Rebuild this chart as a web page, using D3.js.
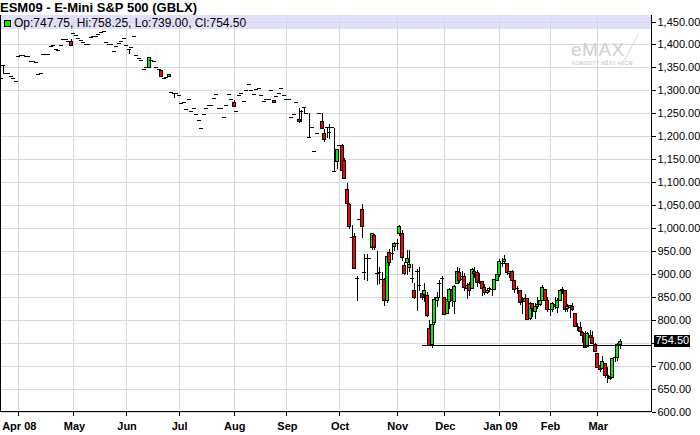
<!DOCTYPE html>
<html><head><meta charset="utf-8">
<script src="https://cdn.jsdelivr.net/npm/d3@7"></script>
<style>
html,body{margin:0;padding:0;background:#fff;}
svg{display:block;font-family:"Liberation Sans",Arial,sans-serif;}
</style></head><body>
<svg id="chart" width="700" height="435"></svg>
<script>
// ---------- data ----------
const firstDay = "2008-03-20";
const lastDay = "2009-03-13";
const holidays = ["2008-03-21","2008-05-26","2008-07-04","2008-09-01","2008-11-27","2008-12-25","2009-01-01","2009-01-19","2009-02-16"];

const opens = [
1326,1355,1338,1338,1331,1326,1320,1374.5,1376,1376,
1374.5,1374.5,1364,1364,1362,1335,1338,1379,1379,1380,
1396,1398,1389,1388,1398.5,1411,1411.5,1407,1407,1425,
1420,1415,1410,1405.5,1400.5,1400,1416.5,1418.5,1418.5,1422,
1427,1429,1404.5,1402,1402,1385.5,1396.5,1403.5,1408,1413,
1398.5,1391,1395,1418,1376.5,1371.5,1365,1347.5,1350,1350,
1366,1364,1351,1347,1344,1326,1330,1331,1295.5,1294.5,
1294,1290,1272.5,1275,1258.5,1280,1254.5,1262,1247.5,1235,
1217,1247.5,1260.5,1269,1269,1282.5,1291.5,1260.5,1260.5,1241,
1269,1291,1280,1273.5,1254.5,1289,1295,1276,1300,1313.5,
1300,1291.5,1302,1306,1289,1276,1280,1282,1300,1278.5,
1288.5,1295,1306,1289,1282,1280,1242.5,1248,1273.5,1238,
1255.5,1263.5,1250,1197.5,1219.5,1167,1208,1250,1233,1206,
1219.5,1210,1219.5,1124,1145.5,1180.5,1180.5,1149,1086,1052,
980.5,982,890,1019,1041,904,933.5,933.5,958.5,984,
902,905,890,888,842,947,945,961,968,988,
988,919,926,914,890,864,906.5,875,858.5,855.5,
853.5,781,748,795,843,880,890,848.5,815,840.5,
866.75,841.5,879.75,903.5,889,895.25,868.75,878,868.5,905.25,
903,884,884.25,871.25,861,866.5,869.25,867.5,887.5,900,
926.25,928.25,924.5,902.75,907,887.5,866.75,864.25,839,841.5,
846.75,803.75,836.75,819.25,829.5,834.25,842.75,866,842.75,820,
822.75,834.75,828.75,843,865.25,864,824.5,827,831,815.5,
788,785,773,770.25,741.75,767.75,762.75,747,726.5,701.5,
695.5,705.25,681,677.75,676.25,716.5,718,747.75];

const highs = [
1326,1355,1338,1338,1331,1326,1320,1374.5,1376,1376,
1374.5,1374.5,1364,1364,1362,1335,1338,1379,1379,1380,
1396,1398,1389,1388,1398.5,1411,1411.5,1407,1411.5,1425,
1420,1415,1410,1405.5,1400.5,1400,1416.5,1418.5,1418.5,1422,
1427,1429,1404.5,1402,1402,1385.5,1396.5,1403.5,1408,1413,
1398.5,1391,1395,1418,1376.5,1371.5,1365,1347.5,1350,1372,
1366,1364,1351,1347,1344,1326,1330,1335,1295.5,1294.5,
1294,1290,1272.5,1275,1258.5,1280,1254.5,1262,1247.5,1235,
1217,1247.5,1260.5,1269,1269,1282.5,1291.5,1260.5,1260.5,1241,
1269,1291,1280,1278,1254.5,1289,1295,1276,1300,1313.5,
1300,1291.5,1302,1306,1289,1276,1280,1282,1300,1278.5,
1288.5,1295,1306,1289,1282,1280,1242.5,1248,1273.5,1262.5,
1256.5,1263.5,1250,1250,1219.5,1167,1208,1250,1250,1215,
1220,1226,1219.5,1217,1173,1180.5,1184,1153,1097,1055,
1006,990,895,1019,1053,943,943,933.5,990,986,
949,915,905,890,940,955,967,970,975,1006,
995,925,953,951,922,880,910,915,862,880,
860,800,795,850,860,886,895,850,847.5,870,
872.5,876.5,915.5,913.25,905.25,901.5,880.25,881.5,911.75,915.75,
908,902.5,884.5,877.5,866.75,870.75,870.75,888,907.25,931.75,
933.5,940.75,924.5,907,909,887.5,874,864.25,848.5,855,
846.75,838.75,836.75,835.5,849.5,847.5,874.75,866,848.75,827.75,
839.5,848.75,847.5,867.75,872,865,835.25,832.5,836.5,815.5,
793,794.5,775.75,774.75,772.5,777,776.5,748.25,726.5,708.75,
721,705.25,696,692.25,716.5,729,749.5,758.25];

const lows = [
1326,1337,1338,1338,1331,1326,1320,1374.5,1376,1376,
1374.5,1374.5,1364,1364,1362,1335,1338,1379,1379,1380,
1396,1398,1389,1388,1398.5,1411,1411.5,1407,1398,1425,
1420,1415,1410,1405.5,1400.5,1400,1416.5,1418.5,1418.5,1422,
1427,1429,1404.5,1402,1402,1385.5,1396.5,1403.5,1408,1413,
1398.5,1381.5,1395,1418,1376.5,1371.5,1365,1347.5,1350,1350,
1366,1364,1351,1347,1331,1326,1330,1331,1295.5,1286,
1294,1290,1272.5,1275,1258.5,1280,1254.5,1262,1247.5,1235,
1217,1247.5,1260.5,1269,1269,1282.5,1291.5,1260.5,1260.5,1241,
1269,1291,1280,1266,1254.5,1289,1295,1276,1300,1313.5,
1300,1291.5,1302,1306,1289,1276,1280,1282,1300,1273.5,
1288.5,1295,1306,1289,1282,1280,1242.5,1248,1273.5,1231,
1233.5,1250,1250,1197.5,1219.5,1167,1208,1250,1218,1190,
1198.5,1197,1219.5,1124,1130,1180.5,1126,1108,1050,1000,
980.5,912,843,1019,980,888,886,933.5,955,955,
877,879,870,833,838,920,932,951,955,985,
930,900,900,907,882,848,821,865,845,840,
808,744,741,790,830,850,845,812,815,824.5,
830.5,815.5,879.75,882.5,882.5,865.75,848.25,854.75,868.5,893,
874.5,880,854,857,858.5,863.5,854,867.5,886.75,896.25,
916.5,924.25,899.5,893.75,885.25,861.25,859,834,814,827.75,
801.5,801.25,808.25,803,824.75,832.5,842.75,841.25,818.75,810,
819,826.25,817,842.5,858.75,820,819.25,805,822.25,786.25,
777.5,774,751.25,739.5,741.75,750,748.75,731.5,696.75,689.25,
695.5,675,663.75,670,676.25,710.75,711.75,739];

const closes = [
1326,1355,1338,1338,1331,1326,1320,1374.5,1376,1376,
1374.5,1374.5,1364,1364,1362,1335,1338,1379,1379,1380,
1396,1398,1389,1388,1398.5,1411,1411.5,1407,1398,1425,
1420,1415,1410,1405.5,1400.5,1400,1416.5,1418.5,1418.5,1422,
1427,1429,1404.5,1402,1402,1385.5,1396.5,1403.5,1408,1413,
1398.5,1391,1395,1418,1376.5,1371.5,1365,1347.5,1350,1372,
1366,1364,1351,1347,1331,1326,1330,1335,1295.5,1294.5,
1294,1290,1272.5,1275,1258.5,1280,1254.5,1262,1247.5,1235,
1217,1247.5,1260.5,1269,1269,1282.5,1291.5,1260.5,1260.5,1241,
1269,1291,1280,1266,1254.5,1289,1295,1276,1300,1313.5,
1300,1291.5,1302,1306,1289,1276,1280,1282,1300,1273.5,
1288.5,1295,1306,1289,1282,1280,1242.5,1248,1273.5,1232.5,
1256,1263.5,1250,1197.5,1219.5,1167,1208,1250,1218,1193,
1219.5,1210,1219.5,1124,1173,1180.5,1126,1110,1053.5,1004,
980.5,913,890,1019,1004,904,933.5,933.5,990,957.5,
902,905,888,842,938,926,945,968,968,1004,
937,902,934,921,890,850,906.5,875,848.5,864,
810,746,790,846,850,880,890,813.5,845.75,867.75,
842.25,873,906.75,885.75,896.25,870.5,876.75,865.5,910.25,901.5,
882.25,885,868.5,860.25,865.25,869.75,866.5,887.75,900.25,928.75,
924.5,931.75,903.75,906.75,887.25,867.25,868.75,839.5,840.75,847,
802.25,837.25,824.5,829,833.5,842.75,871,842.25,823,822.5,
835.5,829.25,842.75,865.5,867,824.25,830.75,832.25,823.75,786.25,
785.5,776,767,740.25,770.25,762,749.75,732,697.75,693.25,
710,679.5,680.5,673.5,716.5,718.25,747.75,754.5];

const monthTickDates = ["2008-04-01","2008-05-01","2008-06-02","2008-07-01","2008-08-01","2008-09-02","2008-10-01","2008-11-03","2008-12-01","2009-01-02","2009-02-02","2009-03-02"];
const monthTickLabels = ["Apr 08","May","Jun","Jul","Aug","Sep","Oct","Nov","Dec","Jan 09","Feb","Mar"];
const priceTicks = [600,650,700,750,800,850,900,950,1000,1050,1100,1150,1200,1250,1300,1350,1400,1450];
const supportLevel = 746;
const supportFrom = "2008-11-18";
const titleText = "ESM09 - E-Mini S&P 500 (GBLX)";

// ---------- helpers ----------
function tradingDays(start, end, hol){
  const out = [], fmt = d3.utcFormat("%Y-%m-%d"), hs = new Set(hol);
  const e = new Date(end + "T00:00:00Z");
  for (let d = new Date(start + "T00:00:00Z"); d <= e; d = d3.utcDay.offset(d, 1)) {
    const wd = d.getUTCDay(), s = fmt(d);
    if (wd > 0 && wd < 6 && !hs.has(s)) out.push(s);
  }
  return out;
}
const dates = tradingDays(firstDay, lastDay, holidays);
const bars = dates.map((d, i) => ({d, o: opens[i], h: highs[i], l: lows[i], c: closes[i]}));

// ---------- layout ----------
const W = 700, H = 435;
const plotL = 0, plotR = 651, plotT = 15, plotB = 411.5;
const svg = d3.select("#chart");
svg.append("rect").attr("width", W).attr("height", H).attr("fill", "#fff");

const x = d3.scaleBand().domain(dates).range([-0.5, 621]).paddingInner(0).paddingOuter(0);
const cx = d => x(d) + x.bandwidth() / 2;
const y = d3.scaleLinear().domain([600, 1450]).range([411.5, 21.5]);
const px = v => Math.round(v) + 0.5;

const g = svg.append("g").attr("shape-rendering", "crispEdges");

// legend band
g.append("rect").attr("x", plotL).attr("y", plotT).attr("width", plotR - plotL).attr("height", 13.5)
  .attr("fill", "#e0e0fb");

// horizontal grid
g.selectAll("line.hg").data(priceTicks).join("line").attr("class", "hg")
  .attr("x1", plotL).attr("x2", plotR).attr("y1", d => px(y(d))).attr("y2", d => px(y(d)))
  .attr("stroke", "#d9d9d9");
// vertical grid
g.selectAll("line.vg").data(monthTickDates).join("line").attr("class", "vg")
  .attr("x1", d => px(cx(d))).attr("x2", d => px(cx(d))).attr("y1", plotT).attr("y2", plotB)
  .attr("stroke", "#d9d9d9");

// watermark
const wm = svg.append("g");
wm.append("text").attr("x", 571).attr("y", 56).attr("font-size", 19).attr("fill", "#cfcfcf")
  .attr("font-family", "'Liberation Sans',Arial,sans-serif").attr("letter-spacing", 0.5).text("eMAX");
wm.append("text").attr("x", 572).attr("y", 65).attr("font-size", 4.6).attr("fill", "#bdbdbd")
  .attr("letter-spacing", 0.4).text("KOMODITY MĚNY AKCIE");
wm.append("line").attr("x1", 639).attr("y1", 33).attr("x2", 621).attr("y2", 66)
  .attr("stroke", "#dadada").attr("stroke-width", 1);

// candles
const cg = g.append("g");
bars.forEach(b => {
  const n = Math.round(cx(b.d));
  const yh = y(b.h), yl = y(b.l);
  if (Math.abs(yh - yl) >= 1) {
    cg.append("line").attr("x1", n + 0.5).attr("x2", n + 0.5)
      .attr("y1", Math.round(yh)).attr("y2", Math.round(yl) + 1).attr("stroke", "#000");
  }
  const yo = y(b.o), yc = y(b.c);
  if (Math.abs(yo - yc) < 1.5) {
    cg.append("line").attr("x1", n - 2).attr("x2", n + 2)
      .attr("y1", px(yc)).attr("y2", px(yc)).attr("stroke", "#000");
  } else {
    const top = Math.round(Math.min(yo, yc)), bot = Math.round(Math.max(yo, yc));
    cg.append("rect").attr("x", n - 1.5).attr("y", top + 0.5).attr("width", 3).attr("height", bot - top)
      .attr("fill", b.c >= b.o ? "#00ee00" : "#ff0000").attr("stroke", "#000");
  }
});

// support line
g.append("line").attr("x1", Math.round(cx(supportFrom)) - 2).attr("x2", plotR)
  .attr("y1", px(y(supportLevel))).attr("y2", px(y(supportLevel))).attr("stroke", "#000");

// frame
g.append("line").attr("x1", 0.5).attr("x2", 0.5).attr("y1", plotT).attr("y2", plotB).attr("stroke", "#000");
g.append("line").attr("x1", 0).attr("x2", plotR + 1).attr("y1", plotB).attr("y2", plotB).attr("stroke", "#000");
g.append("line").attr("x1", plotR + 0.5).attr("x2", plotR + 0.5).attr("y1", plotT).attr("y2", plotB).attr("stroke", "#000");

// last bar
const last = bars[bars.length - 1];
const f2 = d3.format(".2f");
const ly = y(last.c);

// right axis (labels hidden where the last-price box sits)
const fmtTick = d3.format(",.2f");
const yAxis = d3.axisRight(y).tickValues(priceTicks)
  .tickFormat(d => Math.abs(y(d) - ly) < 10 ? "" : fmtTick(d))
  .tickSize(4).tickSizeOuter(0).tickPadding(2);
const ya = svg.append("g").attr("transform", `translate(${plotR + 0.5},0)`).call(yAxis);
ya.select(".domain").remove();
ya.selectAll(".tick line").attr("stroke", "#000").attr("shape-rendering", "crispEdges");
ya.selectAll(".tick text").attr("font-size", 11).attr("font-family", "'Liberation Sans',Arial,sans-serif").attr("fill", "#000");

// bottom axis ticks and labels
const xa = svg.append("g");
xa.selectAll("line").data(monthTickDates).join("line")
  .attr("x1", d => px(cx(d))).attr("x2", d => px(cx(d))).attr("y1", plotB).attr("y2", plotB + 4.5)
  .attr("stroke", "#000").attr("shape-rendering", "crispEdges");
xa.selectAll("text").data(monthTickDates).join("text")
  .attr("x", d => cx(d) + 1).attr("y", 430).attr("text-anchor", "middle")
  .attr("font-size", 11).attr("font-weight", "bold").attr("fill", "#000")
  .text((d, i) => monthTickLabels[i]);

// last price label
svg.append("rect").attr("x", 654).attr("y", Math.round(ly) - 6).attr("width", 36).attr("height", 12).attr("fill", "#000");
svg.append("text").attr("x", 655.5).attr("y", ly).attr("dy", "0.35em").attr("font-size", 11).attr("fill", "#fff").text(f2(last.c));

// title and legend
svg.append("text").attr("x", 0).attr("y", 12).attr("font-size", 13).attr("font-weight", "bold").attr("fill", "#000").text(titleText);
svg.append("rect").attr("x", 4.5).attr("y", 20.5).attr("width", 6).attr("height", 6)
  .attr("fill", last.c >= last.o ? "#00ee00" : "#ff0000").attr("stroke", "#000").attr("shape-rendering", "crispEdges");
svg.append("text").attr("x", 14).attr("y", 27).attr("font-size", 12).attr("fill", "#000")
  .text(`Op:${f2(last.o)}, Hi:${f2(last.h)}, Lo:${f2(last.l)}, Cl:${f2(last.c)}`);
</script>
</body></html>
